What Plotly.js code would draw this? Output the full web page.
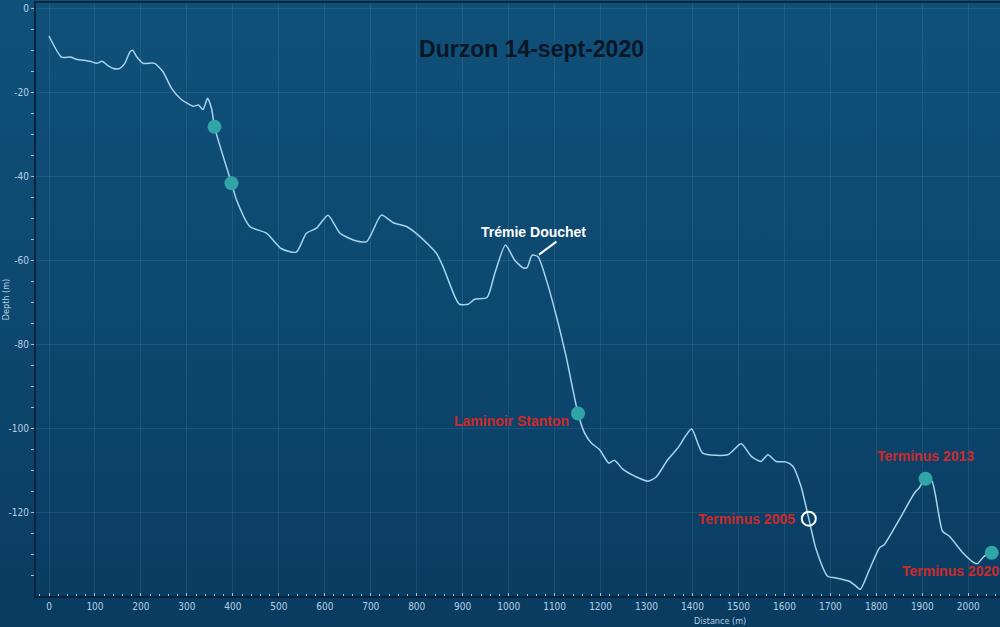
<!DOCTYPE html>
<html>
<head>
<meta charset="utf-8">
<script src="https://cdn.plot.ly/plotly-3.0.1.min.js"></script>
<style>
  html, body { margin:0; padding:0; width:1000px; height:627px; overflow:hidden; }
  #chart { width:1000px; height:627px;
    background: linear-gradient(180deg, #0f5079 0%, #0d4870 50%, #0a3b60 100%); }
</style>
</head>
<body>
<div id="chart"></div>
<script>
// Profile: distance (m) and depth (m)
const distance = [0, 27, 46, 60, 89, 104, 115, 129, 140, 154, 165, 176, 182, 191, 205, 223, 230, 248, 267, 288,
  314, 325, 335, 345, 354, 360, 397, 408, 437, 473, 506, 538, 560, 582, 607, 633, 662, 691, 723, 749,
  778, 807, 843, 857, 883, 893, 912, 926, 953, 970, 993, 1013, 1031, 1040, 1051, 1064, 1082, 1104, 1125, 1151,
  1165, 1180, 1198, 1218, 1230, 1249, 1278, 1303, 1321, 1346, 1368, 1398, 1422, 1477, 1506, 1528, 1549, 1564, 1582, 1603,
  1618, 1636, 1653, 1669, 1694, 1712, 1741, 1752, 1765, 1785, 1807, 1817, 1850, 1883, 1893, 1907, 1921, 1944, 1959, 1988,
  2013, 2020, 2035, 2051];
const depth = [-6.6, -11.6, -11.6, -12.1, -12.6, -13.1, -12.6, -13.7, -14.3, -14.3, -13.1, -10.4, -10.0, -11.6, -13.1, -13.0, -13.1, -15.1, -19.1, -21.7,
  -23.3, -23.0, -24.1, -21.4, -24.0, -28.2, -41.6, -45.6, -51.9, -53.5, -57.2, -58.0, -53.5, -52.3, -49.2, -53.5, -55.1, -55.5, -49.2, -51.0,
  -51.9, -54.3, -58.3, -61.4, -68.6, -70.4, -70.4, -69.2, -68.8, -63.0, -56.3, -59.9, -61.7, -61.7, -58.7, -59.1, -64.6, -73.3, -82.8, -96.4,
  -101.0, -103.4, -105.0, -108.2, -107.5, -109.7, -111.5, -112.5, -111.5, -107.4, -104.6, -100.1, -105.8, -106.2, -103.6, -106.6, -107.8, -106.2, -107.8, -107.9,
  -108.9, -113.7, -121.4, -128.7, -135.1, -135.5, -136.3, -137.1, -138.2, -133.5, -128.3, -127.6, -121.6, -115.3, -114.1, -111.9, -112.5, -124.4, -125.6, -129.5,
  -131.9, -132.1, -130.3, -129.5];

// Waypoints (teal dots)
const wpDistance = [360, 397, 1151, 1907, 2051];
const wpDepth = [-28.2, -41.6, -96.4, -111.9, -129.5];

// Terminus 2005 (open marker)
const t2005Distance = [1653];
const t2005Depth = [-121.4];

// Labels
const labelText = ["Trémie Douchet", "Laminoir Stanton", "Terminus 2005", "Terminus 2013", "Terminus 2020"];
const labelDistance = [1053, 1007, 1518, 1906, 1962];
const labelDepth = [-53.2, -98.2, -121.5, -106.5, -133.9];

// Tick labels
const yTickVals = [0, -20, -40, -60, -80, -100, -120];
const yTickText = ["0", "-20", "-40", "-60", "-80", "-100", "-120"];

const tickFont = {family: "Liberation Sans Narrow, Arial Narrow, DejaVu Sans Condensed, sans-serif", size: 10, color: "#b4d0e6"};
const gridCol = "rgba(150,200,235,0.12)";

const traces = [
  {
    x: distance, y: depth, type: "scatter", mode: "lines",
    line: {color: "#a6d4ee", width: 1.5, shape: "spline", smoothing: 0.6},
    hoverinfo: "skip"
  },
  {
    x: wpDistance, y: wpDepth, type: "scatter", mode: "markers",
    marker: {color: "#2fa5a8", size: 14, line: {width: 0}},
    hoverinfo: "skip"
  },
  {
    x: t2005Distance, y: t2005Depth, type: "scatter", mode: "markers",
    marker: {symbol: "circle-open", color: "#ffffff", size: 14, line: {width: 2, color: "#ffffff"}},
    hoverinfo: "skip"
  }
];

const labelColors = ["#ffffff", "#cc2a2a", "#cc2a2a", "#cc2a2a", "#cc2a2a"];
const annotations = labelText.map((t, i) => ({
  text: "<b>" + t + "</b>", x: labelDistance[i], y: labelDepth[i], xref: "x", yref: "y",
  showarrow: false, xanchor: "center", yanchor: "middle",
  font: {family: "Liberation Sans, Arial, sans-serif", size: 14, color: labelColors[i]}
}));
annotations.push({
  text: "Depth (m)", textangle: -90, xref: "paper", yref: "paper", x: -0.031, y: 0.499,
  showarrow: false, xanchor: "center", yanchor: "middle",
  font: {family: "Liberation Sans Narrow, Arial Narrow, DejaVu Sans Condensed, sans-serif", size: 9, color: "#b4d0e6"}
});
annotations.push({
  text: "Distance (m)", xref: "paper", yref: "paper", x: 0.7095, y: -0.042,
  showarrow: false, xanchor: "center", yanchor: "middle",
  font: {family: "Liberation Sans Narrow, Arial Narrow, DejaVu Sans Condensed, sans-serif", size: 9, color: "#b4d0e6"}
});

const layout = {
  width: 1000, height: 627,
  margin: {l: 36, r: 0, t: 3, b: 31, pad: 0},
  paper_bgcolor: "rgba(0,0,0,0)",
  plot_bgcolor: "rgba(0,0,0,0)",
  showlegend: false,
  title: {
    text: "<b>Durzon 14-sept-2020</b>",
    x: 0.5315, xref: "container", xanchor: "center",
    y: 0.922, yref: "container", yanchor: "middle",
    font: {family: "Liberation Sans, Arial, sans-serif", size: 23, color: "#0a1626"}
  },
  xaxis: {
    range: [-28.3, 2069], dtick: 100, tick0: 0,
    showgrid: true, gridcolor: gridCol, gridwidth: 1,
    zeroline: false,
    showline: true, linecolor: "#08243d", linewidth: 2, mirror: true,
    ticks: "inside", ticklen: 3, tickcolor: "#9fc4de", tickwidth: 1,
    tickfont: tickFont,
    minor: {tickmode: "linear", tick0: 0, dtick: 20, ticks: "inside", ticklen: 2, tickcolor: "#9fc4de", showgrid: false}
  },
  yaxis: {
    range: [-139.8, 1.26],
    tickmode: "array", tickvals: yTickVals, ticktext: yTickText,
    showgrid: true, gridcolor: gridCol, gridwidth: 1,
    zeroline: false,
    showline: true, linecolor: "#08243d", linewidth: 2,
    ticks: "outside", ticklen: 3, tickcolor: "#9fc4de", tickwidth: 1,
    tickfont: tickFont,
    minor: {tickmode: "linear", tick0: 0, dtick: 5, ticks: "outside", ticklen: 3, tickcolor: "#9fc4de", showgrid: false}
  },
  shapes: [
    {type: "line", xref: "x", yref: "y", x0: 1066, y0: -58.6, x1: 1104, y1: -55.5,
     line: {color: "#ffffff", width: 2}}
  ],
  annotations: annotations
};

Plotly.newPlot("chart", traces, layout, {staticPlot: true, displayModeBar: false});
</script>
</body>
</html>
